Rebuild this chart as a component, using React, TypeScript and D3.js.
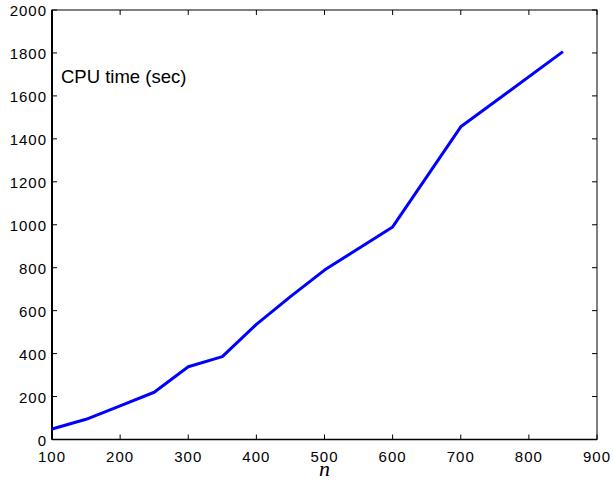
import * as d3 from "d3";

const nValues = [100, 150, 200, 250, 300, 350, 400, 450, 500, 600, 700, 850];
const cpuTime = [49, 94, 157, 220, 339, 386, 536, 665, 789, 990, 1456, 1806];
const xTicks = [100, 200, 300, 400, 500, 600, 700, 800, 900];
const yTicks = [0, 200, 400, 600, 800, 1000, 1200, 1400, 1600, 1800, 2000];

const W = 613;
const H = 481;
const margin = { left: 52, right: 16, top: 10, bottom: 41.5 };

export default function App() {
  const x = d3.scaleLinear().domain([100, 900]).range([margin.left, W - margin.right]);
  const y = d3.scaleLinear().domain([0, 2000]).range([H - margin.bottom, margin.top]);
  const pts = nValues.map((n, i) => [n, cpuTime[i]] as [number, number]);
  const line = d3
    .line<[number, number]>()
    .x((d) => x(d[0]))
    .y((d) => y(d[1]));

  const x0 = x.range()[0];
  const x1 = x.range()[1];
  const y0 = y.range()[0];
  const y1 = y.range()[1];
  const tick = 5;
  const font = "'Liberation Sans', Arial, Helvetica, sans-serif";

  return (
    <svg
      width={W}
      height={H}
      style={{ position: "absolute", left: 0, top: 0, background: "#fff" }}
    >
      <rect x={0} y={0} width={W} height={H} fill="#fff" />
      {/* ticks */}
      {xTicks.map((t) => (
        <g key={"x" + t}>
          <line x1={x(t)} x2={x(t)} y1={y0} y2={y0 - tick} stroke="#000" strokeWidth={1} />
          <line x1={x(t)} x2={x(t)} y1={y1} y2={y1 + tick} stroke="#000" strokeWidth={1} />
          <text
            x={x(t)}
            y={y0 + 22}
            textAnchor="middle"
            fontFamily={font}
            fontSize={15}
            letterSpacing={1}
            fill="#000"
          >
            {t}
          </text>
        </g>
      ))}
      {yTicks.map((t) => (
        <g key={"y" + t}>
          <line x1={x0} x2={x0 + tick} y1={y(t)} y2={y(t)} stroke="#000" strokeWidth={1} />
          <line x1={x1} x2={x1 - tick} y1={y(t)} y2={y(t)} stroke="#000" strokeWidth={1} />
          <text
            x={x0 - 5}
            y={y(t) + 6}
            textAnchor="end"
            fontFamily={font}
            fontSize={15}
            letterSpacing={1}
            fill="#000"
          >
            {t}
          </text>
        </g>
      ))}
      {/* box */}
      <rect x={x0} y={y1} width={x1 - x0} height={y0 - y1} fill="none" stroke="#000" strokeWidth={1} />
      <line x1={x0} x2={x0} y1={y1} y2={y0} stroke="#000" strokeWidth={2} />
      <line x1={x0} x2={x1} y1={y0} y2={y0} stroke="#000" strokeWidth={1.5} />
      {/* data */}
      <path d={line(pts) || ""} fill="none" stroke="#0000ff" strokeWidth={3} strokeLinejoin="round" />
      <text x={61} y={83} fontFamily={font} fontSize={18.5} fill="#000">
        CPU time (sec)
      </text>
      <text
        x={(x0 + x1) / 2}
        y={476}
        textAnchor="middle"
        fontFamily="'Liberation Serif', 'DejaVu Serif', serif"
        fontStyle="italic"
        fontSize={22}
        fill="#000"
      >
        n
      </text>
    </svg>
  );
}
